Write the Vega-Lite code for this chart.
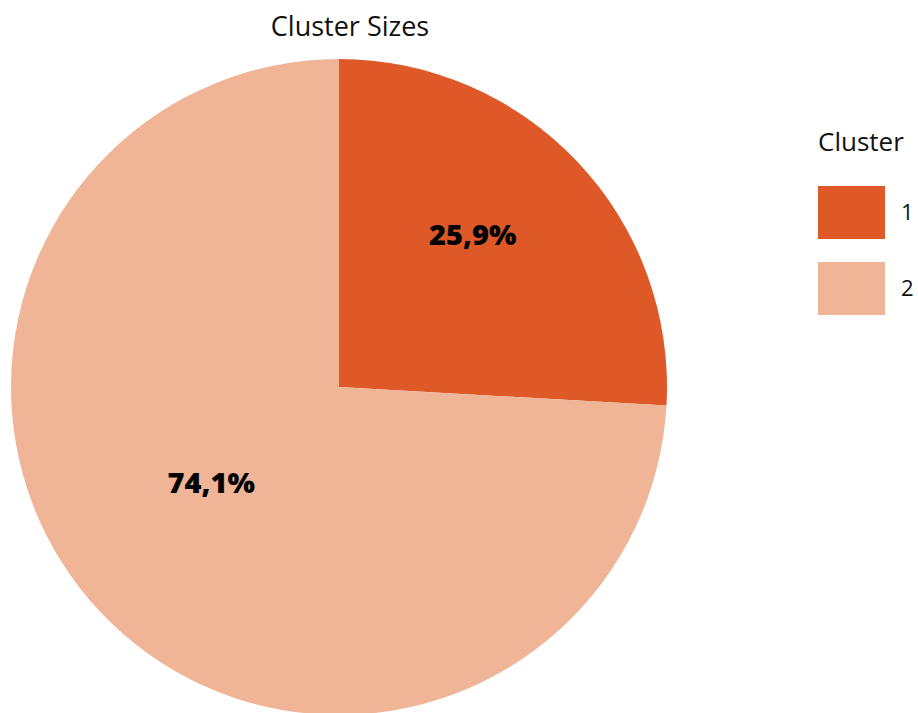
{
  "$schema": "https://vega.github.io/schema/vega-lite/v6.json",
  "autosize": {"type": "none"},
  "width": 656,
  "height": 656,
  "padding": {"left": 11, "top": 59, "right": 251, "bottom": 0},
  "background": "white",
  "title": {"text": "Cluster Sizes", "fontSize": 27, "fontWeight": "normal", "font": "Open Sans", "color": "#111111", "dx": 11, "offset": 17},
  "data": {"values": [
    {"Cluster": "1", "share": 25.9, "label": "25,9%"},
    {"Cluster": "2", "share": 74.1, "label": "74,1%"}
  ]},
  "encoding": {
    "theta": {"field": "share", "type": "quantitative", "stack": true},
    "order": {"field": "Cluster", "type": "ordinal"}
  },
  "layer": [
    {
      "mark": {"type": "arc", "outerRadius": 328},
      "encoding": {
        "color": {
          "field": "Cluster", "type": "nominal",
          "scale": {"domain": ["1", "2"], "range": ["#DE5927", "#F0B596"]},
          "legend": {
            "orient": "none", "legendX": 807, "legendY": 71,
            "title": "Cluster", "titleFontSize": 26, "titleFont": "Open Sans", "titleFontWeight": "normal", "titleColor": "#111111", "titlePadding": 23,
            "labelFontSize": 22, "labelFont": "Open Sans", "labelColor": "#111111", "labelOffset": 16,
            "symbolType": "M-1,-0.79H1V0.79H-1Z", "symbolSize": 4489, "symbolStrokeWidth": 0, "symbolOpacity": 1,
            "rowPadding": 16
          }
        }
      }
    },
    {
      "mark": {"type": "text", "radius": 180, "dx": 3, "dy": -27, "fontSize": 29, "fontWeight": 800, "font": "Open Sans", "color": "#000000"},
      "encoding": {"text": {"field": "label", "type": "nominal"}}
    }
  ],
  "config": {"view": {"stroke": null}}
}
